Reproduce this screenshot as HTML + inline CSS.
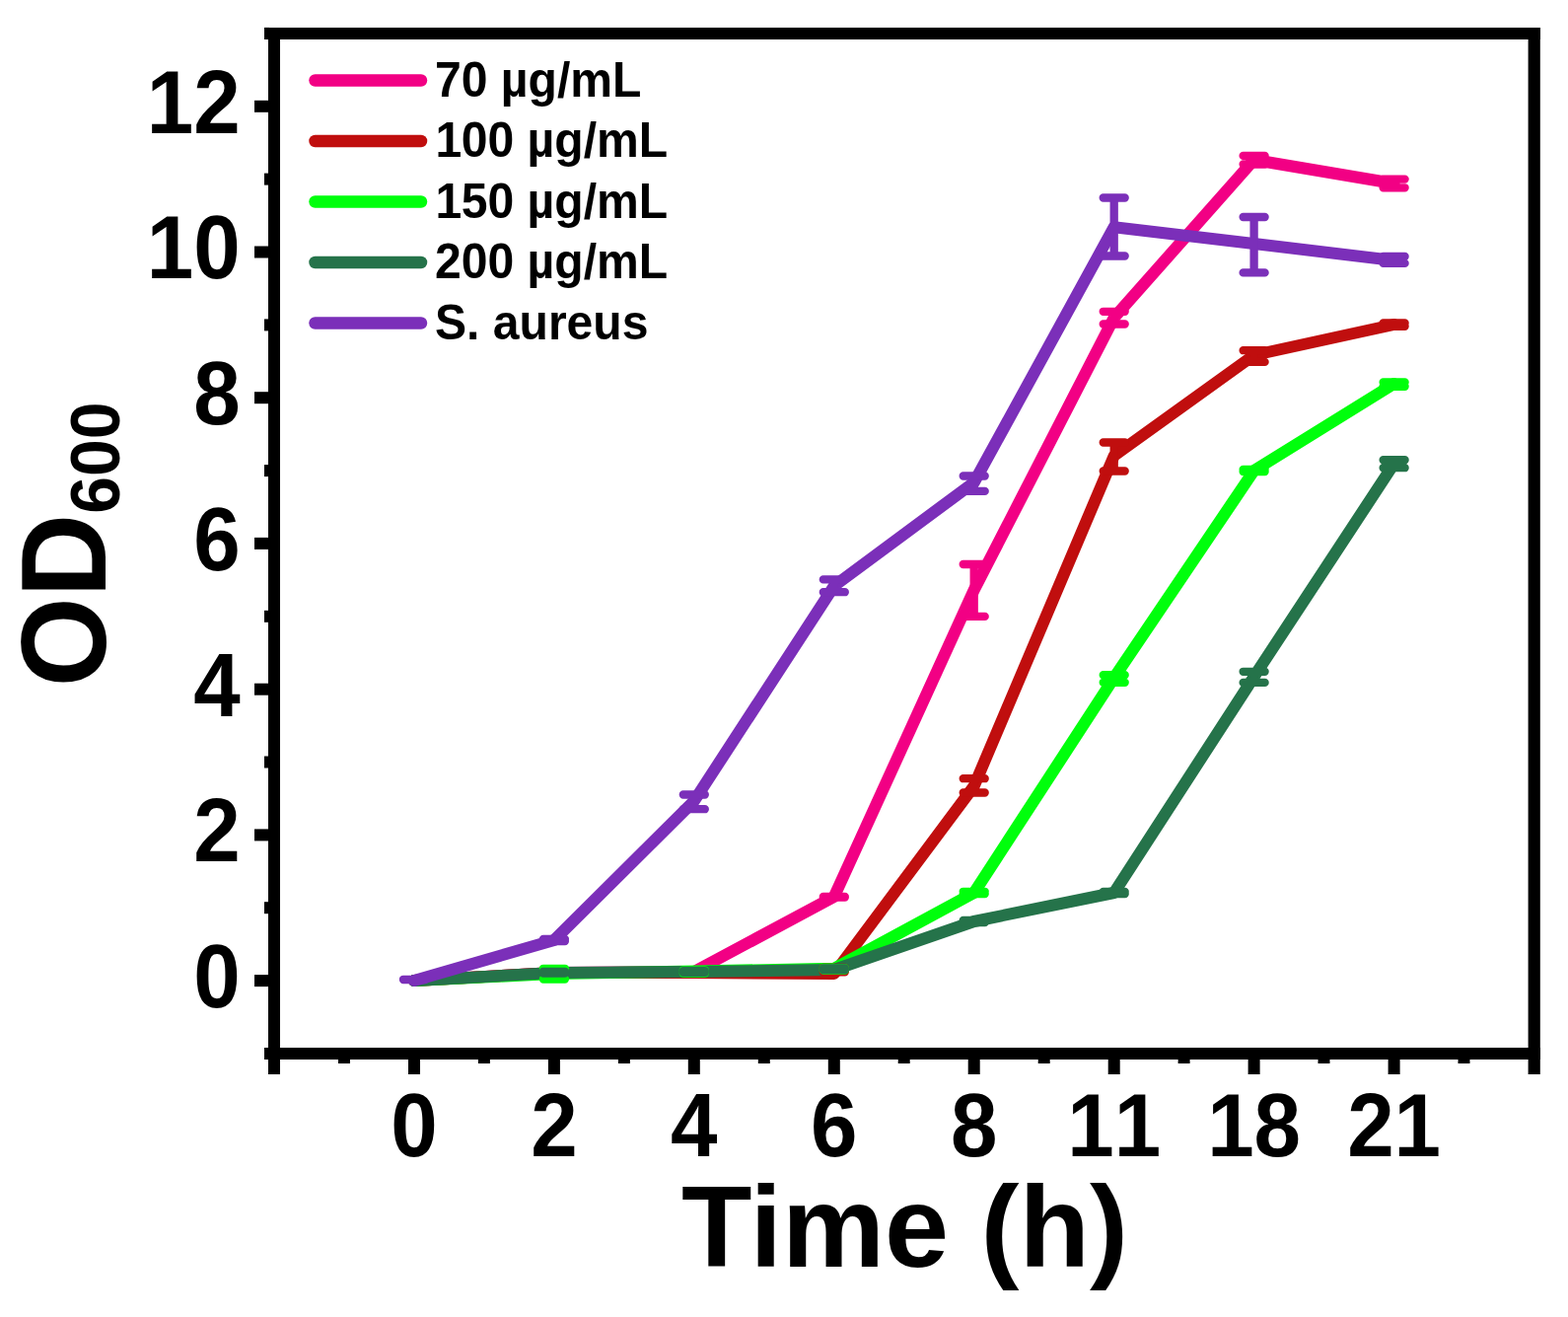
<!DOCTYPE html>
<html lang="en">
<head>
<meta charset="utf-8">
<title>OD600 growth curves</title>
<style>
html,body{margin:0;padding:0;background:#fff;}
body{width:1590px;height:1335px;overflow:hidden;}
svg{display:block;}
</style>
</head>
<body>
<svg width="1590" height="1335" viewBox="0 0 1590 1335">
<rect width="1590" height="1335" fill="#fff"/>
<g fill="none" stroke-width="12" stroke-linecap="round" stroke-linejoin="round">
<polyline stroke="#f20084" points="420,994 561.9,986 703.8,985 845.8,909 987.7,598 1129.7,322 1271.6,162 1413.6,186"/>
<polyline stroke="#c00e0e" points="420,994 561.9,986 703.8,986 845.8,987 987.7,796.8 1129.7,462 1271.6,360 1413.6,329"/>
<polyline stroke="#00ff0c" points="420,994 561.9,987 703.8,984.5 845.8,981.8 987.7,905 1129.7,687 1271.6,477 1413.6,389"/>
<polyline stroke="#25734a" points="420,994 561.9,986 703.8,985 845.8,983 987.7,934 1129.7,905 1271.6,686 1413.6,470"/>
<polyline stroke="#7b2fb9" points="420,994 561.9,953 703.8,812 845.8,594 987.7,489 1129.7,230.2 1271.6,247 1413.6,264"/>
</g>
<g fill="none" stroke-width="8.3" stroke-linecap="round">
<path stroke="#f20084" d="M845.8 909V909.6M834.8 909H856.8M834.8 909.6H856.8M987.7 572V624.9M976.7 572H998.7M976.7 624.9H998.7M1129.7 315.8V328.5M1118.7 315.8H1140.7M1118.7 328.5H1140.7M1271.6 157.9V166.5M1260.6 157.9H1282.6M1260.6 166.5H1282.6M1413.6 181.6V190.3M1402.6 181.6H1424.6M1402.6 190.3H1424.6"/>
<path stroke="#c00e0e" d="M845.8 981V985.3M834.8 981H856.8M834.8 985.3H856.8M987.7 789.2V803.5M976.7 789.2H998.7M976.7 803.5H998.7M1129.7 448.5V477.5M1118.7 448.5H1140.7M1118.7 477.5H1140.7M1271.6 355.2V366.9M1260.6 355.2H1282.6M1260.6 366.9H1282.6M1413.6 327.5V330.8M1402.6 327.5H1424.6M1402.6 330.8H1424.6"/>
<path stroke="#00ff0c" d="M561.9 981.8V992.5M550.9 981.8H572.9M550.9 992.5H572.9M703.8 983.5V986.5M692.8 983.5H714.8M692.8 986.5H714.8M845.8 981.2V983.5M834.8 981.2H856.8M834.8 983.5H856.8M987.7 903.8V906M976.7 903.8H998.7M976.7 906H998.7M1129.7 684.2V691.8M1118.7 684.2H1140.7M1118.7 691.8H1140.7M1271.6 476V478M1260.6 476H1282.6M1260.6 478H1282.6M1413.6 387.5V391.8M1402.6 387.5H1424.6M1402.6 391.8H1424.6"/>
<path stroke="#25734a" d="M561.9 984.8V986.5M550.9 984.8H572.9M550.9 986.5H572.9M703.8 984.2V985.8M692.8 984.2H714.8M692.8 985.8H714.8M845.8 981.5V983.2M834.8 981.5H856.8M834.8 983.2H856.8M987.7 933V935M976.7 933H998.7M976.7 935H998.7M1129.7 904V906M1118.7 904H1140.7M1118.7 906H1140.7M1271.6 680.8V691.9M1260.6 680.8H1282.6M1260.6 691.9H1282.6M1413.6 466.2V474.2M1402.6 466.2H1424.6M1402.6 474.2H1424.6"/>
<path stroke="#7b2fb9" d="M420 992.8V993M409 992.8H431M409 993H431M561.9 952V954M550.9 952H572.9M550.9 954H572.9M703.8 805.5V820.2M692.8 805.5H714.8M692.8 820.2H714.8M845.8 587.4V600.2M834.8 587.4H856.8M834.8 600.2H856.8M987.7 482.5V497.9M976.7 482.5H998.7M976.7 497.9H998.7M1129.7 200.5V259.5M1118.7 200.5H1140.7M1118.7 259.5H1140.7M1271.6 220V276.4M1260.6 220H1282.6M1260.6 276.4H1282.6M1413.6 260V266.9M1402.6 260H1424.6M1402.6 266.9H1424.6"/>
</g>
<g fill="#000">
<rect x="268" y="28" width="1294" height="12"/>
<rect x="272" y="28" width="12" height="1061"/>
<rect x="1549.6" y="28" width="12.2" height="1061"/>
<rect x="268" y="1062" width="1294" height="12"/>
<rect x="258" y="988.1" width="15" height="12"/>
<rect x="258" y="840.4" width="15" height="12"/>
<rect x="258" y="692.7" width="15" height="12"/>
<rect x="258" y="544.9" width="15" height="12"/>
<rect x="258" y="397.2" width="15" height="12"/>
<rect x="258" y="249.5" width="15" height="12"/>
<rect x="258" y="101.8" width="15" height="12"/>
<rect x="268" y="1062.0" width="5" height="12"/>
<rect x="268" y="914.2" width="5" height="12"/>
<rect x="268" y="766.5" width="5" height="12"/>
<rect x="268" y="618.8" width="5" height="12"/>
<rect x="268" y="471.1" width="5" height="12"/>
<rect x="268" y="323.4" width="5" height="12"/>
<rect x="268" y="175.6" width="5" height="12"/>
<rect x="268" y="27.9" width="5" height="12"/>
<rect x="414" y="1073" width="12" height="16"/>
<rect x="555.9" y="1073" width="12" height="16"/>
<rect x="697.8" y="1073" width="12" height="16"/>
<rect x="839.8" y="1073" width="12" height="16"/>
<rect x="981.7" y="1073" width="12" height="16"/>
<rect x="1123.7" y="1073" width="12" height="16"/>
<rect x="1265.6" y="1073" width="12" height="16"/>
<rect x="1407.6" y="1073" width="12" height="16"/>
<rect x="343.0" y="1073" width="12" height="5"/>
<rect x="484.9" y="1073" width="12" height="5"/>
<rect x="626.9" y="1073" width="12" height="5"/>
<rect x="768.8" y="1073" width="12" height="5"/>
<rect x="910.7" y="1073" width="12" height="5"/>
<rect x="1052.7" y="1073" width="12" height="5"/>
<rect x="1194.6" y="1073" width="12" height="5"/>
<rect x="1336.5" y="1073" width="12" height="5"/>
<rect x="1478.5" y="1073" width="12" height="5"/>
</g>
<g font-family="Liberation Sans, Arial, sans-serif" font-weight="bold" fill="#000">
<text transform="translate(243.6,1020.9) scale(0.97,1.041)" x="-48.9" y="0" font-size="88">0</text>
<text transform="translate(243.6,873.2) scale(0.97,1.041)" x="-48.9" y="0" font-size="88">2</text>
<text transform="translate(243.6,725.5) scale(0.97,1.041)" x="-48.9" y="0" font-size="88">4</text>
<text transform="translate(243.6,577.7) scale(0.97,1.041)" x="-48.9" y="0" font-size="88">6</text>
<text transform="translate(243.6,430.0) scale(0.97,1.041)" x="-48.9" y="0" font-size="88">8</text>
<text transform="translate(243.6,282.3) scale(0.97,1.041)" x="-97.9 -48.9" y="0" font-size="88">10</text>
<text transform="translate(243.6,134.6) scale(0.97,1.041)" x="-97.9 -48.9" y="0" font-size="88">12</text>
<text transform="translate(420,1172) scale(0.97,1.041)" x="-24.5" y="0" font-size="88">0</text>
<text transform="translate(561.9,1172) scale(0.97,1.041)" x="-24.5" y="0" font-size="88">2</text>
<text transform="translate(703.8,1172) scale(0.97,1.041)" x="-24.5" y="0" font-size="88">4</text>
<text transform="translate(845.8,1172) scale(0.97,1.041)" x="-24.5" y="0" font-size="88">6</text>
<text transform="translate(987.7,1172) scale(0.97,1.041)" x="-24.5" y="0" font-size="88">8</text>
<text transform="translate(1129.7,1172) scale(0.97,1.041)" x="-48.9 0.0" y="0" font-size="88">11</text>
<text transform="translate(1271.6,1172) scale(0.97,1.041)" x="-48.9 0.0" y="0" font-size="88">18</text>
<text transform="translate(1413.6,1172) scale(0.97,1.041)" x="-48.9 0.0" y="0" font-size="88">21</text>
<text x="917.5" y="1284.3" font-size="117" text-anchor="middle">Time (h)</text>
<text transform="translate(107.3,696.3) rotate(-90) scale(1,1.041)" font-size="117">OD<tspan font-size="68" dy="13">600</tspan></text>
<line x1="319.5" y1="81.5" x2="427" y2="81.5" stroke="#f20084" stroke-width="12.5" stroke-linecap="round"/>
<text transform="translate(441,97.9) scale(1,1.03)" font-size="48.1">70 µg/mL</text>
<line x1="319.5" y1="143.0" x2="427" y2="143.0" stroke="#c00e0e" stroke-width="12.5" stroke-linecap="round"/>
<text transform="translate(441,159.4) scale(1,1.03)" dx="0.4 -0.4" font-size="48.1">100 µg/mL</text>
<line x1="319.5" y1="204.5" x2="427" y2="204.5" stroke="#00ff0c" stroke-width="12.5" stroke-linecap="round"/>
<text transform="translate(441,220.9) scale(1,1.03)" dx="0.4 -0.4" font-size="48.1">150 µg/mL</text>
<line x1="319.5" y1="266.0" x2="427" y2="266.0" stroke="#25734a" stroke-width="12.5" stroke-linecap="round"/>
<text transform="translate(441,282.4) scale(1,1.03)" font-size="48.1">200 µg/mL</text>
<line x1="319.5" y1="327.5" x2="427" y2="327.5" stroke="#7b2fb9" stroke-width="12.5" stroke-linecap="round"/>
<text transform="translate(441,343.9) scale(1,1.03)" font-size="48.1">S. aureus</text>
</g>
</svg>
</body>
</html>
